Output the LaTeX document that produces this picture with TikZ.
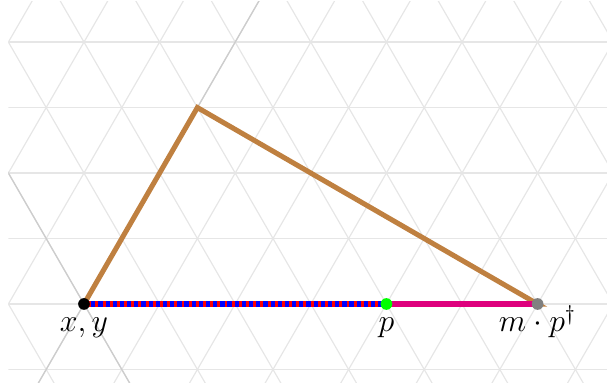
\documentclass[tikz,border=0pt]{standalone}
\usetikzlibrary{calc}
\definecolor{gridc}{RGB}{230,230,230}
\definecolor{axisc}{RGB}{205,205,205}
\definecolor{pinkline}{RGB}{222,0,125}
\definecolor{browntri}{RGB}{191,128,64}
\tikzset{
  gridline/.style={gridc, line width=0.45pt},
  axisline/.style={axisc, line width=0.5pt},
  triedge/.style={browntri, line width=1.9pt},
  dotpt/.style={circle, inner sep=0pt, minimum size=4.4pt},
  ptlabel/.style={anchor=base, font=\fontsize{11.8}{14}\selectfont},
}
\begin{document}
\begin{tikzpicture}[x=1cm,y=1cm]
\useasboundingbox (-1.111,-1.045) rectangle (6.918,4.021);
\begin{scope}
  \clip (-1,-1.2) rectangle (7.2,4.0);
  \foreach \k in {-1,...,4} {
    \draw[gridline] (-1,{\k*0.8660254}) -- (7.2,{\k*0.8660254});
  }
  \foreach \n in {-6,...,12} {
    \draw[gridline] (\n,0) ++(240:3) -- ++(60:9);
    \draw[gridline] (\n,0) ++(300:3) -- ++(120:9);
  }
  \draw[axisline] (0,0) ++(240:3) -- ++(60:9);
  \draw[axisline] (0,0) ++(300:3) -- ++(120:9);
\end{scope}
\coordinate (O) at (0,0);
\coordinate (A) at (60:3);
\coordinate (P) at (4,0);
\coordinate (M) at (6,0);
\draw[triedge] (O) -- (A) -- (M) -- cycle;
\draw[pinkline, line width=2pt] (O) -- (M);
\draw[red, line width=2.1pt] (O) -- (P);
\draw[blue, line width=2.1pt, dash pattern=on 1.6pt off 1.1pt] (O) -- (P);
\node[dotpt, fill=black] (Od) at (O) {};
\node[dotpt, fill=green] (Pd) at (P) {};
\node[dotpt, fill=gray] (Md) at (M) {};
\node[ptlabel] (Ol) at (0,-0.37) {$x,y$};
\node[ptlabel] (Pl) at (4,-0.37) {$p$};
\node[ptlabel] (Ml) at (6,-0.37) {$m\cdot p^\dagger$};
\end{tikzpicture}
\end{document}
